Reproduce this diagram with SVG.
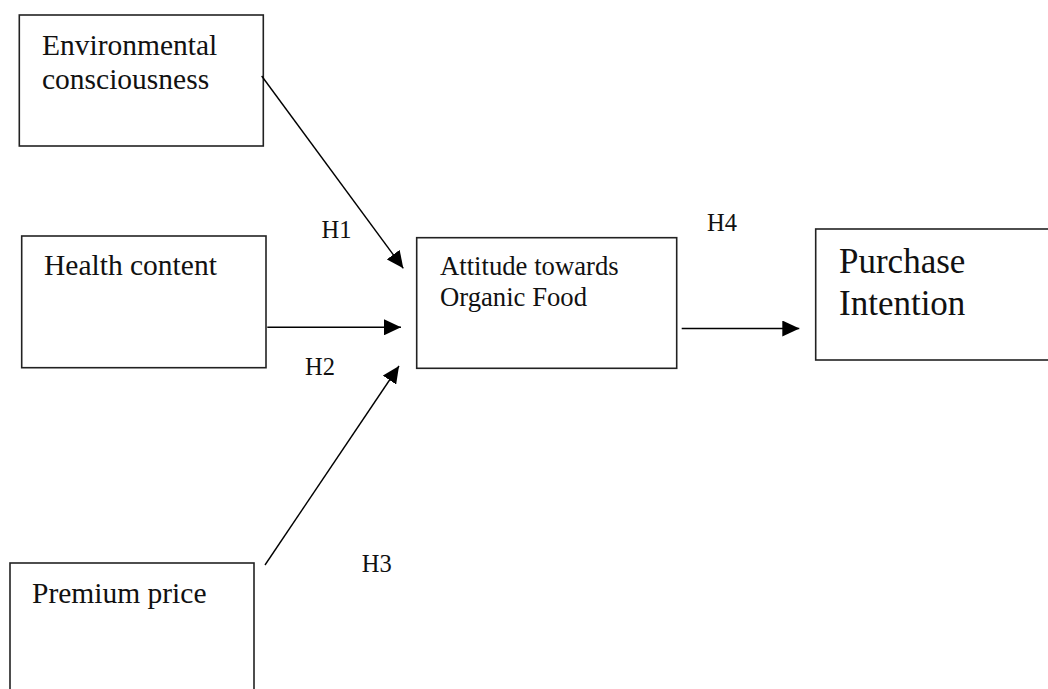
<svg xmlns="http://www.w3.org/2000/svg" width="1048" height="689" viewBox="0 0 1048 689">
<style>
.box{fill:#fff;stroke:#222;stroke-width:1.6}
.t{font-family:"Liberation Serif","Times New Roman",serif;fill:#111}
.conn line{stroke:#000;stroke-width:1.4;marker-end:url(#ah)}
</style>
<defs>
<marker id="ah" viewBox="0 0 17 16" refX="17" refY="8" markerWidth="17" markerHeight="16" markerUnits="userSpaceOnUse" orient="auto">
<path d="M0,0 L17,8 L0,16 z" fill="#000"/>
</marker>
</defs>
<rect width="1048" height="689" fill="#fff"/>
<g id="env">
<rect class="box" x="19.3" y="15" width="244" height="131"/>
<text class="t" x="42" y="54.5" font-size="29.5">Environmental</text>
<text class="t" x="42" y="89" font-size="29.5">consciousness</text>
</g>
<g id="health">
<rect class="box" x="21.7" y="236" width="244.3" height="131.7"/>
<text class="t" x="44" y="275" font-size="29.5">Health content</text>
</g>
<g id="price">
<rect class="box" x="10" y="563" width="244" height="140"/>
<text class="t" x="32" y="603" font-size="29.5">Premium price</text>
</g>
<g id="attitude">
<rect class="box" x="416.7" y="237.7" width="260" height="130.6"/>
<text class="t" x="440" y="275" font-size="26.7">Attitude towards</text>
<text class="t" x="440" y="305.7" font-size="26.7">Organic Food</text>
</g>
<g id="purchase">
<rect class="box" x="815.7" y="229" width="250" height="131"/>
<text class="t" x="839" y="272.7" font-size="35">Purchase</text>
<text class="t" x="839" y="315" font-size="35">Intention</text>
</g>
<g id="connectors" class="conn">
<line x1="261.7" y1="76" x2="403.3" y2="268.3"/>
<line x1="267.3" y1="327.3" x2="401" y2="327.3"/>
<line x1="265" y1="565" x2="399" y2="366"/>
<line x1="681.7" y1="328.5" x2="799.3" y2="328.5"/>
</g>
<g id="labels">
<text class="t" x="321.5" y="238" font-size="24.5">H1</text>
<text class="t" x="305" y="375" font-size="24.5">H2</text>
<text class="t" x="361.7" y="572.3" font-size="24.5">H3</text>
<text class="t" x="707" y="230.7" font-size="24.5">H4</text>
</g>
</svg>
